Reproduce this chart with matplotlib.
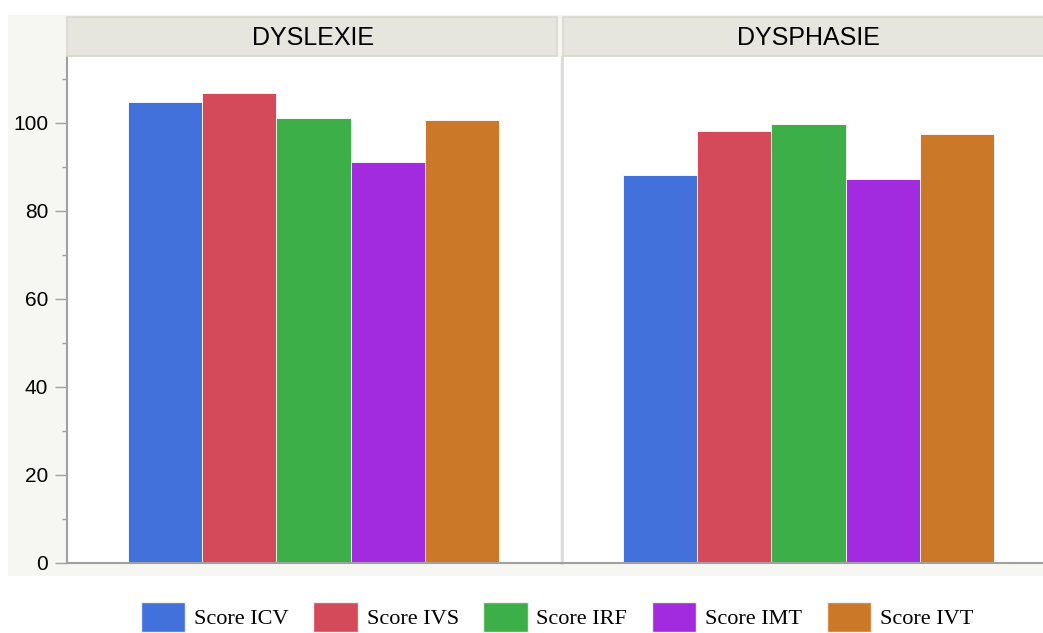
import matplotlib.pyplot as plt
from matplotlib.patches import Rectangle
from matplotlib.ticker import MultipleLocator

# values
groups = ["DYSLEXIE", "DYSPHASIE"]
scores = ["Score ICV", "Score IVS", "Score IRF", "Score IMT", "Score IVT"]
dyslexie = [104.8, 106.8, 101.1, 91.1, 100.7]
dysphasie = [88.2, 98.2, 99.8, 87.3, 97.5]
colors = ["#4371dc", "#d44a5a", "#3daf48", "#a22be0", "#cb7829"]

W, H = 1043, 633
fig = plt.figure(figsize=(W / 100, H / 100), dpi=100)

# light outer background behind the panels
fig.patches.append(Rectangle((8 / W, 1 - 576 / H), (W - 8) / W, (576 - 15) / H,
                             transform=fig.transFigure, facecolor="#f6f6f2",
                             edgecolor="none", zorder=-5))

panel_w = 493
left_x = [67, 562]
y_top, y_bot = 57, 563
axes = []
for i, (name, vals) in enumerate(zip(groups, [dyslexie, dysphasie])):
    ax = fig.add_axes([left_x[i] / W, 1 - y_bot / H, panel_w / W, (y_bot - y_top) / H])
    ax.bar(range(len(scores)), vals, width=1.0, color=colors,
           edgecolor="white", linewidth=0.6)
    ax.set_xlim(-1.33, 5.33)
    ax.set_ylim(0, 115)
    ax.set_xticks([])
    for s in ["top", "right"]:
        ax.spines[s].set_visible(False)
    ax.spines["bottom"].set_color("#a0a0a0")
    ax.spines["bottom"].set_linewidth(1.5)
    if i == 0:
        ax.spines["left"].set_color("#a0a0a0")
        ax.spines["left"].set_linewidth(1.5)
        ax.yaxis.set_major_locator(MultipleLocator(20))
        ax.yaxis.set_minor_locator(MultipleLocator(10))
        ax.tick_params(axis="y", which="major", colors="#a0a0a0", labelcolor="black",
                       labelsize=15, length=8.5, width=1, pad=5)
        ax.tick_params(axis="y", which="minor", colors="#a0a0a0", length=3.6, width=1)
        for lab in ax.get_yticklabels():
            lab.set_fontfamily("Liberation Sans")
    else:
        ax.spines["left"].set_color("#dcdcdc")
        ax.spines["left"].set_linewidth(2)
        ax.set_yticks([])
    # strip header
    hx = (left_x[i] + (1 if i else 0)) / W
    hdr = Rectangle((hx, 1 - 56 / H), (panel_w - 3) / W, 39 / H, transform=fig.transFigure,
                    facecolor="#e6e6de", edgecolor="#d8d8cc", linewidth=1.2, zorder=1)
    fig.patches.append(hdr)
    fig.text((left_x[i] + panel_w / 2) / W, 1 - 38 / H, name, ha="center", va="center",
             fontsize=18, fontfamily="Liberation Sans")
    axes.append(ax)

handles = [Rectangle((0, 0), 1, 1, facecolor=c, edgecolor="#f0f0ea") for c in colors]
fig.legend(handles, scores, loc="center", bbox_to_anchor=(557 / W, 1 - 617 / H), ncol=5,
           frameon=False, prop={"family": "Liberation Serif", "size": 16},
           handlelength=2.0, handleheight=1.7, columnspacing=1.1, handletextpad=0.4,
           borderpad=0)

fig.savefig("out.png", dpi=100)
